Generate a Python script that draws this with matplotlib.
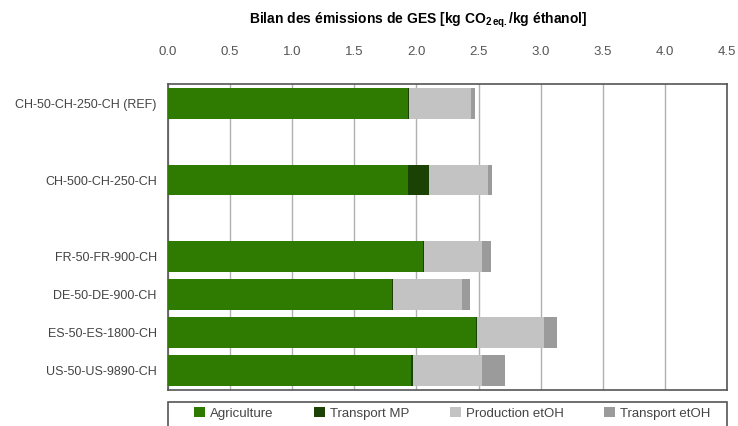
import numpy as np
import matplotlib
matplotlib.use("Agg")
from matplotlib import pyplot as plt
from matplotlib.patches import Rectangle

plt.rcParams['font.family'] = ['Liberation Sans', 'DejaVu Sans']
plt.rcParams['mathtext.fontset'] = 'custom'
plt.rcParams['mathtext.rm'] = 'Liberation Sans'
plt.rcParams['mathtext.bf'] = 'Liberation Sans:bold'

#---------------------------------------------
scenarios = ['CH-50-CH-250-CH (REF)', 'CH-500-CH-250-CH', 'FR-50-FR-900-CH',
             'DE-50-DE-900-CH', 'ES-50-ES-1800-CH', 'US-50-US-9890-CH']
rows = [0, 2, 4, 5, 6, 7]   # empty slots between the first groups

agriculture = [1.93, 1.93, 2.05, 1.80, 2.48, 1.96]
transport_mp = [0.01, 0.17, 0.01, 0.01, 0.01, 0.01]
production = [0.50, 0.48, 0.47, 0.56, 0.54, 0.56]
transport_etoh = [0.03, 0.03, 0.07, 0.06, 0.10, 0.18]

series = [agriculture, transport_mp, production, transport_etoh]
names = ['Agriculture', 'Transport MP', 'Production etOH', 'Transport etOH']
colors = ['#2f7a00', '#1b4205', '#c3c3c3', '#9b9b9b']
#---------------------------------------------

fig = plt.figure(figsize=(7.38, 4.26), dpi=100)
ax = fig.add_axes([0.2276, 0.085, 0.7575, 0.718])

left = np.zeros(len(scenarios))
for vals, name, c in zip(series, names, colors):
    ax.barh(rows, vals, left=left, height=0.8, color=c, label=name, zorder=3)
    left += np.array(vals)

ax.set_xlim(0, 4.5)
ax.set_ylim(7.5, -0.52)
ax.set_xticks(np.arange(0, 4.51, 0.5))
ax.set_xticklabels(['%.1f' % v for v in np.arange(0, 4.51, 0.5)])
ax.xaxis.tick_top()
ax.tick_params(axis='x', length=0, pad=19, labelsize=9.5, labelcolor='#555555')
ax.set_yticks(rows)
ax.set_yticklabels(scenarios)
ax.tick_params(axis='y', length=0, pad=8, labelsize=9, labelcolor='#444444')
ax.grid(axis='x', color='#b0b0b0', linewidth=1, zorder=0)
for s in ax.spines.values():
    s.set_color('#555555')
    s.set_linewidth(1.2)

fig.text(0.567, 0.952, r'Bilan des émissions de GES [kg CO$_{\mathbf{2\,eq.}}$/kg éthanol]',
         ha='center', va='center', fontsize=10, fontweight='bold')

# legend box (runs off the bottom edge like the original)
fig.patches.append(Rectangle((0.2276, -0.05), 0.7575, 0.106, transform=fig.transFigure,
                             facecolor='white', edgecolor='#555555', linewidth=1.2))
leg = fig.legend(loc='upper left', bbox_to_anchor=(0.258, 0.0, 0.71, 0.054),
                 mode='expand', ncol=4, frameon=False,
                 handlelength=0.8, handleheight=0.8, handletextpad=0.4,
                 borderaxespad=0, fontsize=9.5, borderpad=0.3)
for t in leg.get_texts():
    t.set_color('#444444')

fig.savefig('out.png', dpi=100)
